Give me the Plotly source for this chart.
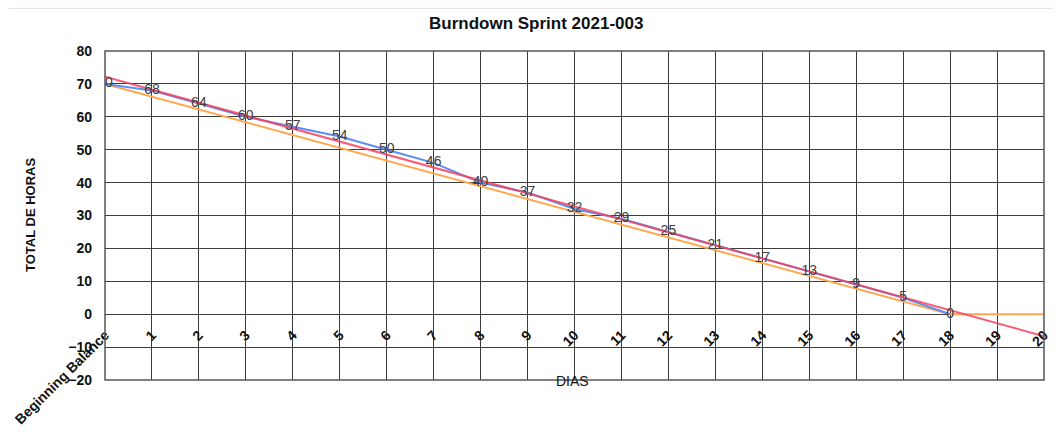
import plotly.graph_objects as go

# ---- data ----
day_labels = ["Beginning Balance"] + [str(i) for i in range(1, 21)]
day_index = list(range(0, 21))

actual_days = list(range(0, 19))
actual_hours = [70, 68, 64, 60, 57, 54, 50, 46, 40, 37, 32, 29, 25, 21, 17, 13, 9, 5, 0]

ideal_days = list(range(0, 21))
ideal_hours = [70, 66.1, 62.2, 58.3, 54.4, 50.6, 46.7, 42.8, 38.9, 35.0, 31.1,
               27.2, 23.3, 19.4, 15.6, 11.7, 7.8, 3.9, 0, 0, 0]

trend_days = [0, 20]
trend_hours = [72.2, -6.7]

# ---- layout geometry (page pixels; the page body adds an 8px offset) ----
W, H = 1060, 448
OFF = 8
L, R, T, B = 105 - OFF, 1044 - OFF, 51 - OFF, 380 - OFF


def fx(px):
    return (px - OFF - L) / (R - L)


def fy(py):
    return (B - (py - OFF)) / (B - T)


FONT = "Liberation Sans"
GRID = "#3c3c3c"

fig = go.Figure()

fig.add_trace(go.Scatter(
    x=ideal_days, y=ideal_hours, mode="lines",
    line=dict(color="#ffa64f", width=2), hoverinfo="skip", showlegend=False))

fig.add_trace(go.Scatter(
    x=actual_days, y=actual_hours, mode="lines",
    line=dict(color="#5b8ef2", width=2), hoverinfo="skip", showlegend=False))

fig.add_trace(go.Scatter(
    x=trend_days, y=trend_hours, mode="lines",
    line=dict(color="#f8405e", width=2), opacity=0.85,
    hoverinfo="skip", showlegend=False))

fig.add_trace(go.Scatter(
    x=actual_days, y=actual_hours, mode="text",
    text=[str(v) for v in actual_hours], textposition="middle center",
    textfont=dict(family=FONT, size=14, color="#404040"),
    hoverinfo="skip", showlegend=False))

fig.update_layout(
    width=W, height=H,
    margin=dict(l=L, r=W - R, t=T, b=H - B),
    paper_bgcolor="white", plot_bgcolor="white",
    showlegend=False,
    xaxis=dict(
        range=[0, 20], tickmode="array", tickvals=day_index, ticktext=day_labels,
        tickangle=-45, showgrid=True, gridcolor=GRID, gridwidth=1,
        zeroline=False, showline=False, ticks="", automargin=False,
        anchor="free", position=0.2,
        tickfont=dict(family=FONT, size=14, color="#111111", weight="bold"),
        ticklabelstandoff=9,
    ),
    yaxis=dict(
        range=[-20, 80], dtick=10, tick0=0, showgrid=True, gridcolor=GRID,
        gridwidth=1, zeroline=False, showline=False, ticks="", automargin=False,
        tickfont=dict(family=FONT, size=14, color="#111111", weight="bold"),
        ticklabelstandoff=12,
    ),
    shapes=[
        dict(type="rect", xref="paper", yref="paper", x0=0, x1=1, y0=0, y1=1,
             line=dict(color="#555555", width=1.5)),
        dict(type="line", xref="paper", yref="paper", x0=fx(9), x1=fx(1060),
             y0=fy(8.5), y1=fy(8.5), line=dict(color="#ebe0e0", width=1)),
    ],
    annotations=[
        dict(text="<b>Burndown Sprint 2021-003</b>", xref="paper", yref="paper",
             x=fx(536), y=fy(24), showarrow=False, xanchor="center", yanchor="middle",
             font=dict(family=FONT, size=17, color="#111111")),
        dict(text="<b>TOTAL DE HORAS</b>", xref="paper", yref="paper",
             x=fx(30), y=fy(215), showarrow=False, textangle=-90,
             xanchor="center", yanchor="middle",
             font=dict(family=FONT, size=13, color="#111111")),
        dict(text="DIAS", xref="paper", yref="paper",
             x=fx(572), y=fy(381), showarrow=False, xanchor="center", yanchor="middle",
             font=dict(family=FONT, size=14, color="#111111")),
    ],
)

fig.write_html("out.html")
